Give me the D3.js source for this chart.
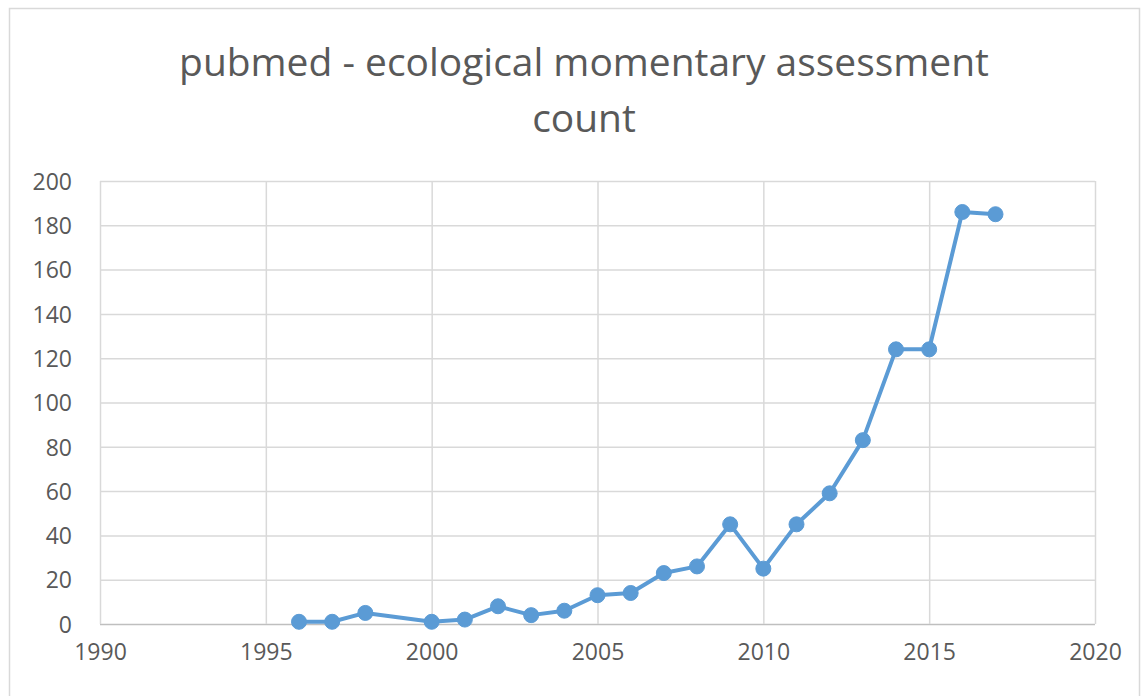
<!DOCTYPE html>
<html>
<head>
<meta charset="utf-8">
<script src="https://cdn.jsdelivr.net/npm/d3@7"></script>
<style>
  html, body { margin: 0; padding: 0; background: #fff; }
  svg { display: block; }
</style>
</head>
<body>
<svg id="chart" width="1146" height="696"></svg>
<script>
const titleLines = ["pubmed - ecological momentary assessment", "count"];
const years  = [1996, 1997, 1998, 2000, 2001, 2002, 2003, 2004, 2005, 2006, 2007, 2008, 2009, 2010, 2011, 2012, 2013, 2014, 2015, 2016, 2017];
const counts = [1, 1, 5, 1, 2, 8, 4, 6, 13, 14, 23, 26, 45, 25, 45, 59, 83, 124, 124, 186, 185];
const xTicks = [1990, 1995, 2000, 2005, 2010, 2015, 2020];
const yTicks = [0, 20, 40, 60, 80, 100, 120, 140, 160, 180, 200];

const svg = d3.select("#chart");
const plot = { left: 100, right: 1095, top: 181, bottom: 624 };

// outer chart border
svg.append("rect")
  .attr("x", 9.5).attr("y", 8.5)
  .attr("width", 1130).attr("height", 700)
  .attr("fill", "#fff").attr("stroke", "#d9d9d9").attr("stroke-width", 1.5);

const x = d3.scaleLinear().domain([1990, 2020]).range([plot.left, plot.right]);
const y = d3.scaleLinear().domain([0, 200]).range([plot.bottom, plot.top]);

// gridlines
const g = svg.append("g");
g.selectAll("line.h").data(yTicks).join("line")
  .attr("x1", plot.left).attr("x2", plot.right)
  .attr("y1", d => y(d) + 0.5).attr("y2", d => y(d) + 0.5)
  .attr("stroke", d => d === 0 ? "#bfbfbf" : "#d9d9d9").attr("stroke-width", 1.5);
g.selectAll("line.v").data(xTicks).join("line")
  .attr("y1", plot.top).attr("y2", plot.bottom)
  .attr("x1", d => x(d) + 0.5).attr("x2", d => x(d) + 0.5)
  .attr("stroke", "#d9d9d9").attr("stroke-width", 1.5);

// axes labels via d3 axes (no lines)
const yAxis = svg.append("g").attr("transform", `translate(${plot.left},0)`)
  .call(d3.axisLeft(y).tickValues(yTicks).tickSize(0).tickPadding(28));
const xAxis = svg.append("g").attr("transform", `translate(0,${plot.bottom})`)
  .call(d3.axisBottom(x).tickValues(xTicks).tickFormat(d3.format("d")).tickSize(0).tickPadding(20));
[yAxis, xAxis].forEach(a => {
  a.select(".domain").remove();
  a.selectAll("text")
    .attr("fill", "#595959")
    .style("font-family", "'Open Sans', 'Liberation Sans', sans-serif")
    .style("font-size", "23px");
});
yAxis.selectAll("text").attr("dy", "0.36em");

// line
const pts = years.map((yr, i) => ({ yr, v: counts[i] }));
svg.append("path").datum(pts)
  .attr("fill", "none").attr("stroke", "#5b9bd5").attr("stroke-width", 4)
  .attr("stroke-linejoin", "round")
  .attr("d", d3.line().x(d => x(d.yr)).y(d => y(d.v)));
svg.selectAll("circle.pt").data(pts).join("circle")
  .attr("cx", d => x(d.yr)).attr("cy", d => y(d.v)).attr("r", 7.5)
  .attr("fill", "#5b9bd5").attr("stroke", "#5b9bd5").attr("stroke-width", 1);

// title
const titleCenter = 584;
const t1 = svg.append("text").text(titleLines[0])
  .attr("x", titleCenter).attr("y", 76).attr("text-anchor", "middle")
  .attr("fill", "#595959")
  .style("font-family", "'Open Sans', 'Liberation Sans', sans-serif")
  .style("font-weight", 400).style("font-size", "36px");
const w = t1.node().getComputedTextLength();
const fs = 36 * 810 / w;
t1.style("font-size", fs + "px");
svg.append("text").text(titleLines[1])
  .attr("x", titleCenter).attr("y", 132).attr("text-anchor", "middle")
  .attr("fill", "#595959")
  .style("font-family", "'Open Sans', 'Liberation Sans', sans-serif")
  .style("font-weight", 400).style("font-size", fs + "px");
</script>
</body>
</html>
